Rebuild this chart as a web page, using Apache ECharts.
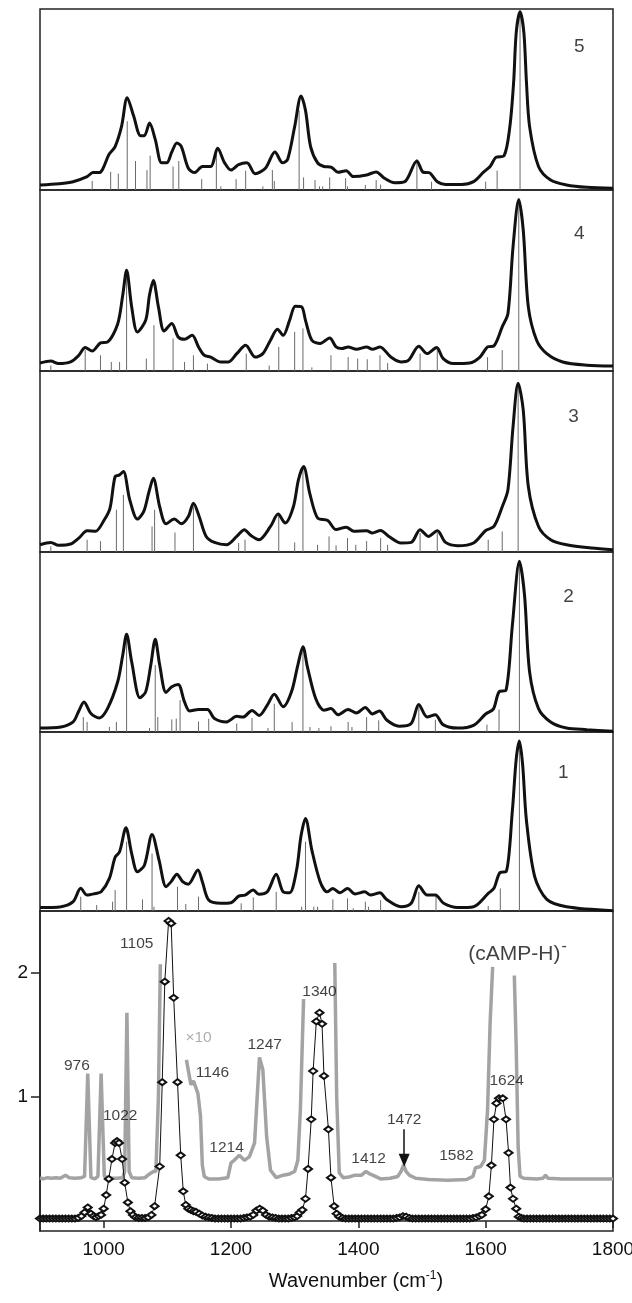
<!DOCTYPE html>
<html>
<head>
<meta charset="utf-8">
<script src="https://cdn.jsdelivr.net/npm/echarts@6/dist/echarts.min.js"></script>
<style>
  html, body { margin: 0; padding: 0; background: #fff; }
  #chart { width: 632px; height: 1303px; }
</style>
</head>
<body>
<div id="chart"></div>
<script>
// computed spectra (conformers 5..1, top to bottom): convolved curve + stick spectrum
const curve5 = [[900,0.028],[930,0.035],[952,0.046],[974,0.074],[983,0.096],[993,0.096],[1009,0.20],[1018,0.24],[1028,0.35],[1037,0.51],[1047,0.41],[1058,0.30],[1064,0.30],[1072,0.37],[1081,0.28],[1091,0.15],[1099,0.15],[1107,0.21],[1115,0.26],[1122,0.24],[1133,0.12],[1143,0.096],[1155,0.13],[1168,0.13],[1179,0.23],[1190,0.15],[1200,0.11],[1212,0.14],[1225,0.15],[1238,0.09],[1254,0.12],[1269,0.21],[1281,0.15],[1289,0.17],[1300,0.35],[1310,0.52],[1317,0.44],[1325,0.24],[1336,0.15],[1346,0.13],[1358,0.125],[1368,0.098],[1381,0.107],[1392,0.074],[1413,0.083],[1428,0.10],[1441,0.065],[1457,0.04],[1473,0.046],[1492,0.16],[1502,0.098],[1511,0.096],[1524,0.046],[1537,0.031],[1562,0.031],[1581,0.046],[1597,0.10],[1607,0.13],[1616,0.18],[1629,0.19],[1638,0.35],[1644,0.6],[1648,0.87],[1654,0.985],[1660,0.87],[1664,0.6],[1669,0.35],[1683,0.13],[1702,0.055],[1727,0.028],[1759,0.015],[1800,0.01]];
const sticks5 = [[982,0.05],[1011,0.10],[1023,0.09],[1037,0.38],[1050,0.16],[1068,0.11],[1073,0.19],[1109,0.13],[1118,0.16],[1154,0.06],[1177,0.23],[1184,0.02],[1208,0.06],[1223,0.107],[1250,0.02],[1265,0.11],[1268,0.05],[1307,0.44],[1314,0.07],[1332,0.055],[1339,0.02],[1344,0.02],[1355,0.07],[1380,0.065],[1383,0.02],[1411,0.028],[1428,0.055],[1435,0.03],[1492,0.17],[1515,0.046],[1600,0.046],[1618,0.107],[1654,0.98]];

const curve4 = [[900,0.044],[917,0.055],[929,0.041],[948,0.05],[961,0.087],[971,0.13],[982,0.11],[995,0.155],[1006,0.16],[1022,0.26],[1030,0.42],[1036,0.557],[1044,0.354],[1053,0.216],[1066,0.28],[1072,0.42],[1078,0.50],[1086,0.354],[1095,0.221],[1107,0.262],[1117,0.188],[1127,0.175],[1139,0.197],[1149,0.133],[1158,0.087],[1168,0.077],[1184,0.05],[1196,0.05],[1209,0.096],[1223,0.142],[1238,0.077],[1250,0.096],[1262,0.17],[1273,0.23],[1282,0.197],[1292,0.28],[1301,0.358],[1311,0.354],[1317,0.28],[1327,0.17],[1340,0.152],[1355,0.183],[1365,0.133],[1374,0.124],[1384,0.133],[1397,0.12],[1413,0.133],[1422,0.12],[1434,0.133],[1451,0.077],[1467,0.05],[1479,0.06],[1495,0.137],[1508,0.096],[1523,0.13],[1533,0.07],[1549,0.041],[1575,0.044],[1591,0.077],[1603,0.133],[1613,0.139],[1626,0.244],[1635,0.318],[1643,0.686],[1652,0.948],[1659,0.779],[1667,0.354],[1680,0.17],[1696,0.096],[1721,0.05],[1759,0.032],[1800,0.027]];
const sticks4 = [[917,0.03],[971,0.115],[995,0.087],[1012,0.05],[1025,0.05],[1036,0.52],[1067,0.069],[1079,0.253],[1109,0.18],[1127,0.05],[1141,0.087],[1163,0.041],[1224,0.096],[1260,0.03],[1275,0.133],[1300,0.216],[1313,0.235],[1327,0.02],[1357,0.087],[1384,0.077],[1399,0.069],[1414,0.065],[1434,0.087],[1446,0.044],[1497,0.096],[1524,0.133],[1603,0.077],[1626,0.115],[1652,0.945]];

const curve3 = [[900,0.04],[917,0.053],[929,0.037],[948,0.044],[961,0.077],[974,0.117],[987,0.114],[1001,0.178],[1010,0.243],[1018,0.417],[1025,0.426],[1031,0.445],[1041,0.288],[1053,0.182],[1063,0.224],[1071,0.33],[1078,0.408],[1088,0.25],[1098,0.156],[1111,0.182],[1122,0.156],[1133,0.196],[1141,0.27],[1150,0.196],[1161,0.086],[1174,0.053],[1193,0.04],[1209,0.086],[1221,0.123],[1231,0.092],[1244,0.068],[1262,0.141],[1274,0.21],[1285,0.16],[1298,0.25],[1306,0.40],[1314,0.472],[1324,0.32],[1336,0.188],[1352,0.174],[1365,0.124],[1381,0.137],[1393,0.114],[1413,0.117],[1422,0.105],[1435,0.119],[1448,0.086],[1467,0.05],[1483,0.053],[1497,0.123],[1510,0.086],[1524,0.117],[1537,0.053],[1556,0.035],[1581,0.05],[1600,0.119],[1613,0.141],[1626,0.25],[1635,0.344],[1643,0.693],[1651,0.932],[1659,0.785],[1667,0.362],[1683,0.141],[1702,0.068],[1727,0.04],[1766,0.022],[1800,0.013]];
const sticks3 = [[917,0.031],[974,0.068],[995,0.06],[1020,0.233],[1031,0.316],[1076,0.141],[1080,0.233],[1112,0.108],[1141,0.25],[1212,0.05],[1222,0.068],[1275,0.206],[1300,0.053],[1313,0.463],[1336,0.04],[1354,0.086],[1365,0.037],[1383,0.077],[1396,0.04],[1413,0.06],[1435,0.077],[1446,0.04],[1497,0.105],[1524,0.105],[1604,0.068],[1626,0.114],[1651,0.913]];

const curve2 = [[900,0.022],[933,0.028],[952,0.056],[961,0.117],[969,0.167],[980,0.103],[993,0.078],[1006,0.13],[1022,0.279],[1030,0.428],[1036,0.543],[1044,0.39],[1057,0.19],[1066,0.223],[1074,0.372],[1081,0.515],[1088,0.372],[1098,0.22],[1107,0.251],[1117,0.264],[1127,0.167],[1135,0.117],[1149,0.125],[1163,0.125],[1174,0.075],[1193,0.056],[1209,0.087],[1219,0.083],[1233,0.12],[1244,0.092],[1257,0.149],[1268,0.21],[1282,0.14],[1295,0.223],[1305,0.372],[1313,0.474],[1320,0.362],[1333,0.186],[1346,0.121],[1357,0.13],[1368,0.096],[1384,0.125],[1397,0.106],[1411,0.136],[1422,0.10],[1433,0.117],[1445,0.065],[1464,0.032],[1483,0.047],[1495,0.153],[1508,0.083],[1521,0.096],[1533,0.041],[1556,0.022],[1581,0.037],[1600,0.10],[1612,0.127],[1621,0.223],[1632,0.232],[1642,0.595],[1653,0.948],[1661,0.762],[1669,0.334],[1683,0.13],[1702,0.056],[1727,0.022],[1759,0.013],[1800,0.004]];
const sticks2 = [[968,0.083],[974,0.056],[1009,0.028],[1020,0.056],[1036,0.53],[1072,0.022],[1081,0.372],[1085,0.083],[1107,0.07],[1114,0.074],[1120,0.177],[1149,0.059],[1165,0.074],[1209,0.047],[1233,0.078],[1258,0.022],[1268,0.157],[1296,0.056],[1313,0.474],[1324,0.028],[1338,0.022],[1357,0.032],[1384,0.056],[1390,0.028],[1413,0.083],[1432,0.065],[1495,0.14],[1521,0.068],[1602,0.041],[1621,0.125],[1653,0.94]];

const curve1 = [[900,0.019],[933,0.024],[952,0.052],[964,0.127],[974,0.089],[987,0.098],[996,0.107],[1009,0.182],[1018,0.30],[1025,0.331],[1035,0.465],[1044,0.321],[1053,0.219],[1064,0.256],[1076,0.428],[1087,0.284],[1098,0.136],[1106,0.164],[1115,0.206],[1124,0.164],[1133,0.15],[1148,0.229],[1155,0.164],[1165,0.061],[1184,0.043],[1200,0.046],[1212,0.083],[1222,0.089],[1235,0.117],[1244,0.093],[1257,0.107],[1271,0.205],[1282,0.107],[1292,0.102],[1303,0.229],[1310,0.42],[1317,0.517],[1327,0.34],[1340,0.164],[1351,0.107],[1360,0.126],[1371,0.102],[1383,0.126],[1395,0.095],[1410,0.107],[1419,0.089],[1434,0.102],[1444,0.065],[1467,0.024],[1483,0.043],[1495,0.141],[1508,0.089],[1521,0.089],[1534,0.043],[1556,0.019],[1581,0.024],[1604,0.098],[1613,0.127],[1623,0.216],[1632,0.219],[1642,0.563],[1648,0.85],[1653,0.95],[1658,0.82],[1664,0.507],[1677,0.192],[1696,0.065],[1727,0.024],[1800,0.002]];
const sticks1 = [[964,0.08],[989,0.033],[1014,0.052],[1018,0.117],[1036,0.387],[1061,0.065],[1076,0.321],[1079,0.024],[1116,0.136],[1129,0.039],[1149,0.08],[1216,0.043],[1235,0.076],[1271,0.107],[1311,0.024],[1317,0.387],[1330,0.024],[1336,0.024],[1360,0.065],[1383,0.071],[1392,0.015],[1411,0.052],[1416,0.024],[1435,0.061],[1495,0.107],[1522,0.089],[1604,0.028],[1623,0.126],[1653,0.93]];

// experimental IRMPD spectrum (black, diamonds) and x10 trace (grey, clipped)
const expX = [900,905,910,915,920,925,930,935,940,945,950,955,960,965,970,975,980,984,988,992,996,1000,1004,1008,1013,1018,1021,1024,1029,1033,1038,1042,1046,1050,1055,1060,1065,1070,1075,1080,1088,1092,1096,1102,1106,1110,1116,1121,1125,1129,1133,1137,1141,1145,1150,1155,1160,1165,1170,1175,1180,1185,1190,1195,1200,1205,1210,1215,1220,1225,1230,1235,1240,1245,1250,1255,1260,1265,1270,1275,1280,1285,1290,1295,1300,1304,1308,1312,1317,1321,1326,1329,1334,1339,1343,1346,1353,1357,1362,1366,1370,1375,1380,1385,1390,1395,1400,1405,1410,1415,1420,1425,1430,1435,1440,1445,1450,1455,1460,1465,1470,1475,1480,1485,1490,1495,1500,1505,1510,1515,1520,1525,1530,1535,1540,1545,1550,1555,1560,1565,1570,1575,1580,1585,1590,1594,1600,1605,1609,1613,1617,1621,1627,1632,1636,1639,1643,1648,1652,1656,1660,1665,1670,1675,1680,1685,1690,1695,1700,1705,1710,1715,1720,1725,1730,1735,1740,1745,1750,1755,1760,1765,1770,1775,1780,1785,1790,1795,1800];
const expY = [0.02,0.02,0.02,0.02,0.02,0.02,0.02,0.02,0.02,0.02,0.02,0.02,0.025,0.04,0.07,0.11,0.06,0.04,0.03,0.04,0.05,0.10,0.21,0.34,0.50,0.63,0.645,0.63,0.50,0.31,0.15,0.08,0.05,0.03,0.025,0.025,0.025,0.03,0.05,0.12,0.44,1.12,1.93,2.42,2.40,1.80,1.12,0.53,0.24,0.13,0.10,0.09,0.08,0.075,0.06,0.045,0.035,0.03,0.025,0.02,0.02,0.02,0.02,0.02,0.02,0.02,0.02,0.02,0.025,0.03,0.035,0.05,0.085,0.10,0.085,0.05,0.035,0.03,0.025,0.02,0.02,0.02,0.02,0.025,0.03,0.04,0.07,0.09,0.18,0.42,0.82,1.21,1.61,1.68,1.59,1.17,0.74,0.35,0.12,0.06,0.035,0.025,0.02,0.02,0.02,0.02,0.02,0.02,0.02,0.02,0.02,0.02,0.02,0.02,0.02,0.02,0.02,0.02,0.025,0.03,0.04,0.035,0.025,0.02,0.02,0.02,0.02,0.02,0.02,0.02,0.02,0.02,0.02,0.02,0.02,0.02,0.02,0.02,0.02,0.02,0.02,0.02,0.025,0.03,0.04,0.05,0.095,0.20,0.45,0.82,0.95,0.99,0.99,0.82,0.55,0.27,0.18,0.10,0.035,0.025,0.02,0.02,0.02,0.02,0.02,0.02,0.02,0.02,0.02,0.02,0.02,0.02,0.02,0.02,0.02,0.02,0.02,0.02,0.02,0.02,0.02,0.02,0.02,0.02,0.02,0.02,0.02,0.02,0.02,0.02];
const x10Trace = [[900,0.35],[905,0.34],[912,0.35],[918,0.345],[925,0.35],[932,0.345],[940,0.37],[946,0.35],[955,0.345],[965,0.35],[970,0.36],[975,1.19],[980,0.35],[986,0.34],[991,0.36],[996,1.19],[1001,0.36],[1010,0.345],[1020,0.345],[1030,0.35],[1033,0.40],[1036.5,1.68],[1040,0.40],[1044,0.35],[1055,0.345],[1065,0.35],[1072,0.38],[1078,0.40],[1082,0.40],[1086,1.00],[1089,2.07],[1110,null],[1130,1.30],[1137,1.10],[1141,1.13],[1148,1.03],[1152,0.85],[1155,0.45],[1158,0.36],[1165,0.34],[1180,0.34],[1195,0.35],[1200,0.47],[1205,0.49],[1213,0.53],[1221,0.49],[1229,0.52],[1237,0.63],[1244.7,1.32],[1250,1.22],[1256,0.68],[1262,0.41],[1271,0.35],[1282,0.37],[1292,0.38],[1300,0.40],[1305,0.49],[1309,0.9],[1314,1.79],[1340,null],[1363,2.08],[1366,1.0],[1370,0.39],[1376,0.35],[1385,0.355],[1395,0.37],[1405,0.37],[1412,0.40],[1418,0.38],[1425,0.365],[1435,0.34],[1450,0.345],[1462,0.36],[1467,0.40],[1471,0.45],[1475,0.40],[1480,0.37],[1490,0.345],[1510,0.335],[1540,0.33],[1570,0.335],[1580,0.36],[1584,0.43],[1592,0.44],[1598,0.49],[1603,0.9],[1607,1.6],[1611,2.05],[1628,null],[1645,1.98],[1648,1.4],[1651,0.6],[1654,0.36],[1660,0.345],[1680,0.34],[1690,0.345],[1694,0.37],[1698,0.345],[1720,0.34],[1760,0.34],[1800,0.34]];

// peak labels of the experimental panel: [text, wavenumber, height]
const peakLabels = [['976',958,1.25],['1022',1026,0.85],['1105',1052,2.24],['1146',1171,1.20],['1214',1193,0.59],['1247',1253,1.42],['1340',1339,1.85],['1412',1416,0.50],['1472',1472,0.82],['1582',1554,0.53],['1624',1633,1.13]];
const panelNames = ['5','4','3','2','1'];
const panelNamePos = [[1747,0.79],[1747,0.76],[1738,0.746],[1730,0.75],[1722,0.775]];
const xTicks = [1000,1200,1400,1600,1800];
const yTicks = [1,2];

const curves = [curve5, curve4, curve3, curve2, curve1];
const sticks = [sticks5, sticks4, sticks3, sticks2, sticks1];

const FONT = 'Liberation Sans, Arial, sans-serif';
const tops = [9, 190, 371, 552, 732, 911];
const heights = [181, 181, 181, 180, 179, 320];

let chart = echarts.init(document.getElementById('chart'));

let grids = [], xAxes = [], yAxes = [], series = [];
for (let i = 0; i < 6; i++) {
  grids.push({
    left: 40, right: 19, top: tops[i], height: heights[i],
    outerBoundsMode: 'none', containLabel: false,
    show: true, borderColor: '#222', borderWidth: 1.5, backgroundColor: 'transparent'
  });
}

for (let i = 0; i < 5; i++) {
  xAxes.push({ gridIndex: i, type: 'value', min: 900, max: 1800, show: false });
  yAxes.push({ gridIndex: i, type: 'value', min: 0, max: 1, show: false });

  series.push({
    type: 'custom',
    xAxisIndex: i, yAxisIndex: i,
    data: sticks[i],
    z: 1,
    renderItem: (params, api) => {
      let a = api.coord([api.value(0), 0]);
      let b = api.coord([api.value(0), api.value(1)]);
      return {
        type: 'line',
        shape: { x1: a[0], y1: a[1], x2: b[0], y2: b[1] },
        style: { stroke: '#6a6a6a', lineWidth: 1 }
      };
    }
  });
  series.push({
    type: 'line',
    xAxisIndex: i, yAxisIndex: i,
    data: curves[i],
    smooth: 0.3,
    showSymbol: false,
    z: 3,
    lineStyle: { color: '#111', width: 3 }
  });
  series.push({
    type: 'scatter',
    xAxisIndex: i, yAxisIndex: i,
    symbolSize: 0,
    data: [{ value: panelNamePos[i], name: panelNames[i] }],
    label: { show: true, position: 'inside', formatter: '{b}', color: '#111', fontSize: 19, fontFamily: FONT }
  });
}

// experimental panel
xAxes.push({
  gridIndex: 5, type: 'value', min: 900, max: 1800,
  axisLine: { show: true, lineStyle: { color: '#222', width: 1.5 } },
  axisTick: { show: true, inside: false, length: 7, customValues: xTicks, lineStyle: { color: '#222', width: 1.5 } },
  axisLabel: { show: true, margin: 9, customValues: xTicks, formatter: v => String(v), color: '#111', fontSize: 19, fontFamily: FONT },
  splitLine: { show: false }
});
yAxes.push({
  gridIndex: 5, type: 'value', min: -0.08, max: 2.5,
  axisLine: { show: true, lineStyle: { color: '#222', width: 1.5 } },
  axisTick: { show: true, inside: false, length: 9, customValues: yTicks, lineStyle: { color: '#222', width: 1.5 } },
  axisLabel: { show: true, margin: 12, customValues: yTicks, formatter: v => String(v), color: '#111', fontSize: 19, fontFamily: FONT },
  splitLine: { show: false }
});

series.push({
  type: 'line',
  xAxisIndex: 5, yAxisIndex: 5,
  data: x10Trace,
  connectNulls: false,
  showSymbol: false,
  z: 2,
  lineStyle: { color: '#a3a3a3', width: 3.5, cap: 'butt' },
  markLine: {
    silent: true,
    symbol: ['none', 'triangle'],
    symbolSize: [11, 13],
    label: { show: false },
    lineStyle: { color: '#111', width: 1.5, type: 'solid' },
    data: [[{ coord: [1472, 0.74] }, { coord: [1472, 0.49] }]]
  }
});
series.push({
  type: 'line',
  xAxisIndex: 5, yAxisIndex: 5,
  data: expX.map((x, k) => [x, expY[k]]),
  symbol: 'emptyDiamond',
  symbolSize: [8, 6],
  showSymbol: true,
  z: 4,
  lineStyle: { color: '#111', width: 1 },
  itemStyle: { color: '#111', borderWidth: 1 }
});
series.push({
  type: 'scatter',
  xAxisIndex: 5, yAxisIndex: 5,
  symbolSize: 0,
  z: 5,
  data: peakLabels.map(p => ({ value: [p[1], p[2]], name: p[0] }))
    .concat([{ value: [1149, 1.48], name: '×10', label: { color: '#9a9a9a' } }]),
  label: { show: true, position: 'inside', formatter: '{b}', color: '#111', fontSize: 15.5, fontFamily: FONT }
});
series.push({
  type: 'scatter',
  xAxisIndex: 5, yAxisIndex: 5,
  symbolSize: 0,
  z: 5,
  data: [{ value: [1650, 2.15], name: 'cAMP' }],
  label: {
    show: true, position: 'inside',
    formatter: '(cAMP-H){s|-}',
    color: '#111', fontSize: 21, fontFamily: FONT,
    rich: { s: { fontSize: 16, fontFamily: FONT, color: '#111', padding: [0, 0, 16, 1] } }
  }
});

let option = {
  animation: false,
  backgroundColor: '#fff',
  grid: grids,
  xAxis: xAxes,
  yAxis: yAxes,
  series: series,
  graphic: [{
    type: 'text',
    x: 356, y: 1281,
    style: {
      text: 'Wavenumber (cm{s|-1})',
      fontSize: 20, fontFamily: FONT, fill: '#111',
      align: 'center', verticalAlign: 'middle',
      rich: { s: { fontSize: 12, fontFamily: FONT, fill: '#111', padding: [0, 0, 10, 0] } }
    }
  }]
};

chart.setOption(option);
</script>
</body>
</html>
